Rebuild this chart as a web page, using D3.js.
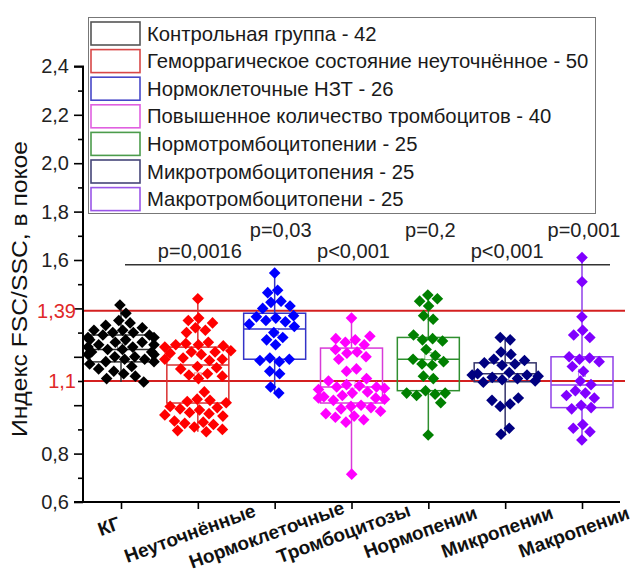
<!DOCTYPE html>
<html>
<head>
<meta charset="utf-8">
<script src="https://cdn.jsdelivr.net/npm/d3@7"></script>
<style>
  html, body { margin: 0; padding: 0; background: #fff; }
  svg { display: block; }
  text { font-family: "Liberation Sans", Arial, sans-serif; }
</style>
</head>
<body>
<svg id="chart" width="634" height="572"></svg>
<script>
// Groups (x axis)
const categories = ["КГ", "Неуточнённые", "Нормоклеточные", "Тромбоцитозы", "Нормопении", "Микропении", "Макропении"];
const legendLabels = [
  "Контрольная группа - 42",
  "Геморрагическое состояние неуточнённое - 50",
  "Нормоклеточные НЗТ - 26",
  "Повышенное количество тромбоцитов - 40",
  "Нормотромбоцитопении - 25",
  "Микротромбоцитопения - 25",
  "Макротромбоцитопени - 25"
];

// Individual FSC/SSC index values per group
const kg = [1.414, 1.38, 1.35, 1.34, 1.33, 1.32, 1.31, 1.31, 1.30, 1.30, 1.29, 1.29, 1.28, 1.28, 1.27,
  1.27, 1.26, 1.26, 1.25, 1.25, 1.24, 1.24, 1.23, 1.23, 1.22, 1.22, 1.21, 1.21, 1.20, 1.20,
  1.19, 1.19, 1.18, 1.18, 1.17, 1.16, 1.15, 1.14, 1.13, 1.12, 1.11, 1.096];
const unspecified = [1.44, 1.36, 1.35, 1.34, 1.32, 1.31, 1.30, 1.26, 1.255, 1.25, 1.25, 1.245, 1.24,
  1.225, 1.22, 1.22, 1.215, 1.21, 1.195, 1.19, 1.19, 1.185, 1.16, 1.155, 1.15, 1.13, 1.125, 1.12, 1.11,
  1.055, 1.025, 1.02, 1.015, 1.01, 0.995, 0.99, 0.985, 0.98, 0.97, 0.965, 0.96, 0.955,
  0.935, 0.93, 0.925, 0.92, 0.91, 0.90, 0.895, 0.89];
const normocellular = [1.546, 1.475, 1.465, 1.43, 1.425, 1.41, 1.40, 1.37, 1.365, 1.36, 1.35, 1.345, 1.335,
  1.325, 1.30, 1.28, 1.27, 1.25, 1.195, 1.19, 1.185, 1.18, 1.14, 1.13, 1.075, 1.05];
const thrombocytosis = [1.36, 1.285, 1.275, 1.27, 1.26, 1.25, 1.23, 1.22, 1.215, 1.20, 1.19, 1.15, 1.14,
  1.11, 1.10, 1.085, 1.08, 1.075, 1.075, 1.07, 1.065, 1.055, 1.05, 1.04, 1.035, 1.03, 1.03, 1.025, 1.02,
  1.0, 0.995, 0.99, 0.985, 0.975, 0.965, 0.955, 0.95, 0.94, 0.93, 0.715];
const normopenia = [1.455, 1.44, 1.43, 1.41, 1.37, 1.355, 1.29, 1.275, 1.27, 1.265, 1.23, 1.205, 1.19,
  1.18, 1.17, 1.165, 1.12, 1.11, 1.06, 1.05, 1.05, 1.045, 1.04, 1.01, 0.877];
const micropenia = [1.28, 1.27, 1.22, 1.21, 1.19, 1.185, 1.175, 1.17, 1.165, 1.135, 1.13, 1.125, 1.125,
  1.12, 1.115, 1.11, 1.105, 1.10, 1.095, 1.03, 1.02, 1.005, 0.995, 0.905, 0.88];
const macropenia = [1.61, 1.51, 1.365, 1.31, 1.29, 1.28, 1.2, 1.195, 1.19, 1.18, 1.16, 1.14, 1.10,
  1.085, 1.06, 1.05, 1.04, 1.03, 1.0, 0.99, 0.985, 0.92, 0.905, 0.89, 0.856];
const groupValues = [kg, unspecified, normocellular, thrombocytosis, normopenia, micropenia, macropenia];

// Box statistics (25th percentile, median, 75th percentile)
const q1 = [1.179, 1.009, 1.19, 1.009, 1.06, 1.097, 0.99];
const medians = [1.23, 1.166, 1.315, 1.075, 1.19, 1.13, 1.083];
const q3 = [1.29, 1.24, 1.38, 1.236, 1.28, 1.175, 1.2];

// Reference levels and y ticks
const refLevels = [1.39, 1.1];
const refLabels = ["1,39", "1,1"];
const majorTicks = [0.6, 0.8, 1.0, 1.2, 1.4, 1.6, 1.8, 2.0, 2.2, 2.4];
const minorTicks = [0.7, 0.9, 1.1, 1.3, 1.5, 1.7, 1.9, 2.1, 2.3];
const labelledTicks = [0.6, 0.8, 1.6, 1.8, 2.0, 2.2, 2.4];

// Significance labels (groups 2..7 vs control) and the bracket level
const pLabels = ["p=0,0016", "p=0,03", "p<0,001", "p=0,2", "p<0,001", "p=0,001"];
const bracketLevel = 1.58;

const pointColors = ["#000000", "#ff0000", "#0000ff", "#ff00ff", "#008000", "#000080", "#8000ff"];
const boxColors = ["#333333", "#d83030", "#3333c8", "#d83ad8", "#2f8f2f", "#33336a", "#9040e8"];
const legendColors = ["#555555", "#d84848", "#4848c8", "#e060e0", "#4c9c4c", "#454578", "#9a55e8"];

const svg = d3.select("#chart");
const W = 634, H = 572;
svg.append("rect").attr("width", W).attr("height", H).attr("fill", "#fff");

const y = d3.scaleLinear().domain([0.6, 2.4]).range([502, 66.4]);
const x = d3.scalePoint().domain(categories).range([121, 582]);
const axisX0 = 83, axisX1 = 620;
const boxW = 62;
const fmt = v => d3.format(".1f")(v).replace(".", ",");

// Reference lines
svg.append("g").selectAll("line").data(refLevels).join("line")
  .attr("x1", axisX0).attr("x2", 625)
  .attr("y1", d => y(d)).attr("y2", d => y(d))
  .attr("stroke", "#d42020").attr("stroke-width", 2);

// Y axis
const yMajor = svg.append("g").attr("transform", `translate(${axisX0},0)`)
  .call(d3.axisLeft(y).tickValues(majorTicks).tickSize(9).tickPadding(5)
    .tickFormat(d => labelledTicks.some(t => Math.abs(t - d) < 1e-9) ? fmt(d) : ""));
svg.append("g").attr("transform", `translate(${axisX0},0)`)
  .call(d3.axisLeft(y).tickValues(minorTicks).tickSize(5).tickFormat(""))
  .call(g => g.select(".domain").remove());
yMajor.select(".domain").attr("stroke-width", 2);
svg.selectAll(".tick line").attr("stroke-width", 1.6);
yMajor.selectAll("text").attr("font-size", 20).attr("fill", "#222")
  .style("font-family", '"Liberation Sans", Arial, sans-serif');
yMajor.select(".domain").attr("d", `M-9,${y(2.4)}H0V${y(0.6)}H-9`);

// Red reference labels
svg.append("g").selectAll("text").data(refLevels).join("text")
  .attr("x", axisX0 - 7).attr("y", d => y(d)).attr("dy", "0.35em")
  .attr("text-anchor", "end").attr("font-size", 20).attr("fill", "#e02828")
  .text((d, i) => refLabels[i]);

// Y title
svg.append("text")
  .attr("transform", "translate(27,289) rotate(-90)")
  .attr("text-anchor", "middle").attr("font-size", 21.5).attr("fill", "#111")
  .attr("textLength", 296).attr("lengthAdjust", "spacingAndGlyphs")
  .text("Индекс FSC/SSC, в покое");

// X axis
const xAxis = svg.append("g").attr("transform", "translate(0,502)")
  .call(d3.axisBottom(x).tickSize(7).tickFormat(""));
xAxis.select(".domain").attr("d", `M${axisX0},0H${axisX1}`).attr("stroke-width", 2);
xAxis.selectAll(".tick line").attr("stroke-width", 1.6);

// Rotated category labels
const xl = svg.append("g");
categories.forEach((c, i) => {
  const t = xl.append("text").attr("font-size", 19).attr("font-weight", "bold")
    .attr("text-anchor", "middle").attr("dominant-baseline", "central").attr("fill", "#111").text(c);
  const w = t.node().getComputedTextLength();
  const cx = x(c) - (i === 0 ? 12 : 8);
  const cy = 525 + 0.06 * w;
  t.attr("transform", `translate(${cx},${cy}) rotate(-20)`);
});

// Boxes, whiskers, means, points
const diamond = "M0,-5.8L5.8,0L0,5.8L-5.8,0Z";
categories.forEach((c, i) => {
  const vals = groupValues[i];
  const cx = x(c);
  const col = boxColors[i];
  const g = svg.append("g");
  const [mn, mx] = d3.extent(vals);
  g.append("line").attr("x1", cx).attr("x2", cx).attr("y1", y(mx)).attr("y2", y(q3[i]))
    .attr("stroke", col).attr("stroke-width", 1.5);
  g.append("line").attr("x1", cx).attr("x2", cx).attr("y1", y(q1[i])).attr("y2", y(mn))
    .attr("stroke", col).attr("stroke-width", 1.5);
  g.append("rect").attr("x", cx - boxW / 2).attr("width", boxW)
    .attr("y", y(q3[i])).attr("height", y(q1[i]) - y(q3[i]))
    .attr("fill", "none").attr("stroke", col).attr("stroke-width", 1.5);
  g.append("line").attr("x1", cx - boxW / 2).attr("x2", cx + boxW / 2)
    .attr("y1", y(medians[i])).attr("y2", y(medians[i]))
    .attr("stroke", col).attr("stroke-width", 1.5);
  const m = d3.mean(vals);
  g.append("rect").attr("x", cx - 3.5).attr("y", y(m) - 3.5).attr("width", 7).attr("height", 7)
    .attr("fill", "#fff").attr("stroke", col).attr("stroke-opacity", 0.6).attr("stroke-width", 1);

  // swarm layout: each point stays at its value, spread sideways to limit overlap
  const nodes = vals.map((v, k) => ({ v, y: y(v), fy: y(v), x: cx + ((k % 2) ? 1 : -1) * (k % 7) * 1.5 }));
  d3.forceSimulation(nodes)
    .force("x", d3.forceX(cx).strength(0.05))
    .force("c", d3.forceCollide(5.1))
    .stop().tick(300);
  g.selectAll("path").data(nodes).join("path")
    .attr("d", diamond)
    .attr("transform", d => `translate(${Math.max(cx - 33, Math.min(cx + 33, d.x))},${d.fy})`)
    .attr("fill", pointColors[i]);
});

// Significance bracket and labels
svg.append("line").attr("x1", 125).attr("x2", 610)
  .attr("y1", y(bracketLevel)).attr("y2", y(bracketLevel))
  .attr("stroke", "#333").attr("stroke-width", 1.5);
svg.append("g").selectAll("text").data(pLabels).join("text")
  .attr("x", (d, i) => x(categories[i + 1]) + (i === 1 ? 6 : 2))
  .attr("y", (d, i) => i % 2 === 0 ? 258 : 237)
  .attr("text-anchor", "middle").attr("font-size", 20).attr("fill", "#222")
  .text(d => d);

// Legend
const lg = svg.append("g");
lg.append("rect").attr("x", 88.5).attr("y", 17.5).attr("width", 507).attr("height", 196)
  .attr("fill", "#fff").attr("stroke", "#777").attr("stroke-width", 1);
legendLabels.forEach((lab, i) => {
  const cy = 33.5 + i * 27.6;
  lg.append("rect").attr("x", 91).attr("y", cy - 11.5).attr("width", 49).attr("height", 23)
    .attr("fill", "#fff").attr("stroke", legendColors[i]).attr("stroke-width", 1.6);
  lg.append("text").attr("x", 147).attr("y", cy).attr("dy", "0.35em")
    .attr("font-size", 20.3).attr("fill", "#1a1a1a").text(lab);
});
</script>
</body>
</html>
